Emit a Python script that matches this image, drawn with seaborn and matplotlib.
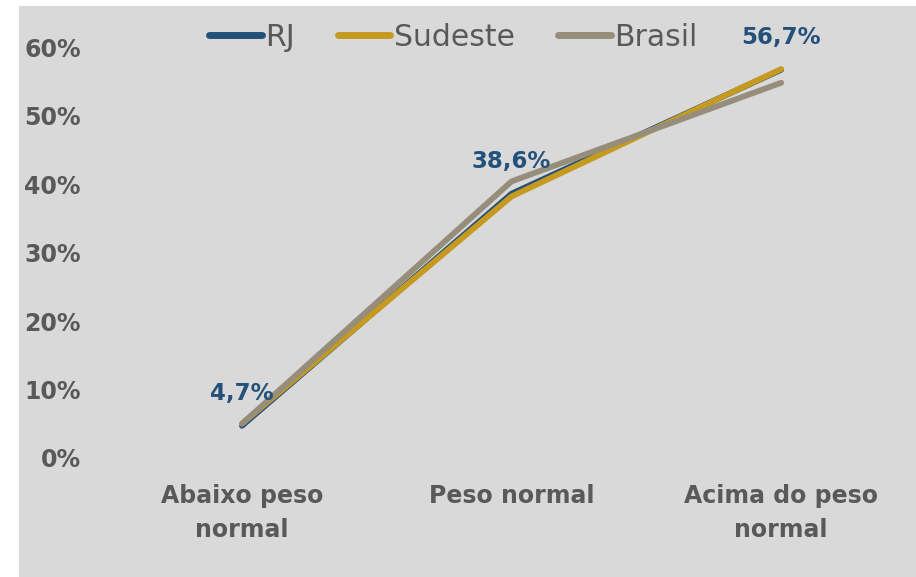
import numpy as np
import pandas as pd
import matplotlib.pyplot as plt
import matplotlib.patches as mpatches
import seaborn as sns

categories = ["Abaixo peso\nnormal", "Peso normal", "Acima do peso\nnormal"]
rj      = [0.047, 0.386, 0.567]
sudeste = [0.050, 0.382, 0.568]
brasil  = [0.050, 0.404, 0.548]
rj_labels = ["4,7%", "38,6%", "56,7%"]
yticks = [0, 0.1, 0.2, 0.3, 0.4, 0.5, 0.6]

df = pd.DataFrame({
    "cat":   categories * 3,
    "valor": rj + sudeste + brasil,
    "serie": ["RJ"] * 3 + ["Sudeste"] * 3 + ["Brasil"] * 3,
})

sns.set_theme(style="white")
plt.rcParams["font.family"] = ["DejaVu Sans"]

COLORS = {"RJ": "#24517A", "Sudeste": "#C59A1E", "Brasil": "#978D7B"}
TXT = "#595959"
BG = "#D9D9D9"

fig = plt.figure(figsize=(9.16, 5.77), dpi=100, facecolor="white")
fig.patches.append(mpatches.Rectangle((19 / 916, 0), 1, 1 - 6 / 577,
                                      transform=fig.transFigure,
                                      facecolor=BG, edgecolor="none", zorder=-10))
ax = fig.add_axes([0.117, 0.2063, 0.883, 0.712])
ax.set_facecolor("none")

sns.lineplot(data=df, x="cat", y="valor", hue="serie", palette=COLORS,
             hue_order=["RJ", "Sudeste", "Brasil"], sort=False,
             linewidth=4.2, ax=ax, legend=True,
             solid_capstyle="round")

for i, (v, lab) in enumerate(zip(rj, rj_labels)):
    ax.annotate(lab, xy=(i, v), xytext=(0, 23), textcoords="offset points",
                ha="center", va="center", fontsize=16.5, fontweight="bold",
                color=COLORS["RJ"])

ax.set_xlim(-0.5, 2.5)
ax.set_ylim(0, 0.6)
ax.set_yticks(yticks)
ax.set_yticklabels([f"{int(round(t * 100))}%" for t in yticks])
ax.tick_params(axis="both", length=0, labelsize=17, labelcolor=TXT)
ax.tick_params(axis="x", pad=19)
ax.tick_params(axis="y", pad=19)
for lab in ax.get_xticklabels() + ax.get_yticklabels():
    lab.set_fontweight("bold")
for lab in ax.get_xticklabels():
    lab.set_linespacing(1.5)
ax.set_xlabel("")
ax.set_ylabel("")
sns.despine(ax=ax, left=True, bottom=True)

leg = ax.legend(loc="center", bbox_to_anchor=(0.495, 1 - 37 / 577),
                bbox_transform=fig.transFigure, ncol=3, frameon=False,
                fontsize=21.5, handlelength=1.75, handletextpad=0.12,
                columnspacing=1.45)
for t in leg.get_texts():
    t.set_color(TXT)
for h in leg.get_lines():
    h.set_linewidth(5)
    h.set_solid_capstyle("round")

plt.savefig("out.png", dpi=100, facecolor="white")
plt.close()
